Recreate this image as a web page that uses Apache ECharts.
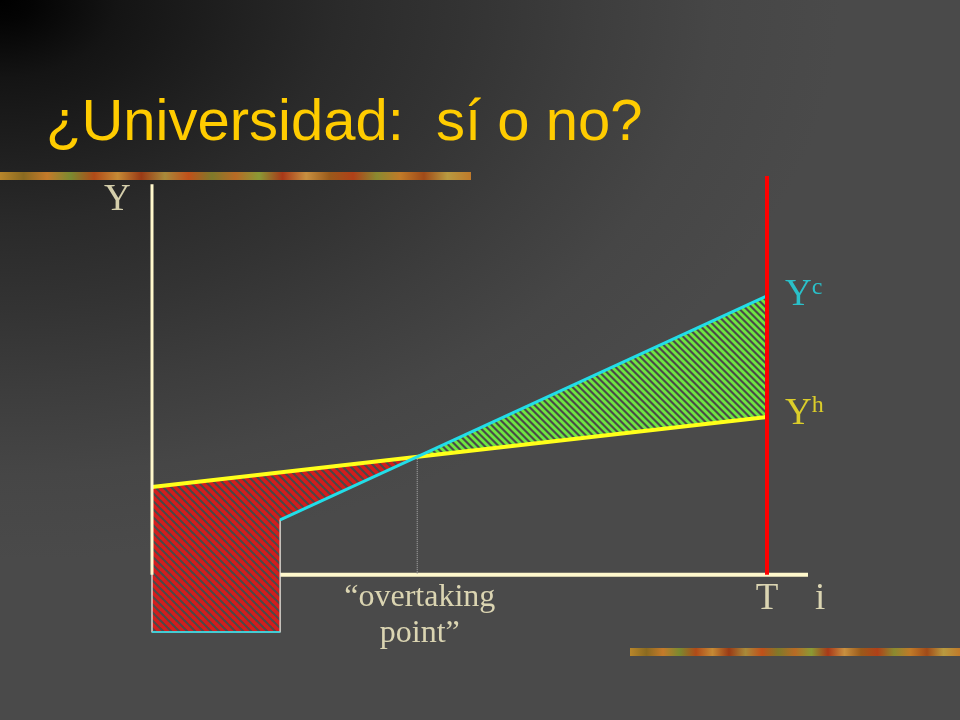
<!DOCTYPE html>
<html>
<head>
<meta charset="utf-8">
<script src="https://cdn.jsdelivr.net/npm/echarts@6/dist/echarts.min.js"></script>
<style>
  html, body { margin: 0; padding: 0; width: 960px; height: 720px; overflow: hidden; background-color: #4a4a4a; }
  body {
    background-image: radial-gradient(840px 560px at 0 0, #000000 0%, #040404 4%, #141414 14%, #202020 28%,
      #2a2a2a 40%, #333333 55%, #3d3d3d 70%, #464646 85%, #4a4a4a 100%);
  }
  #chart { width: 960px; height: 720px; }
</style>
</head>
<body>
<div id="chart"></div>
<script>
// ---- data (in chart units: x = years of life, y = income) ----
const schoolEnd = 10;          // end of university
const horizonT = 48;           // T, end of working life
const xAxisEnd = 51.2;
const yAxisTop = 140;
const redLineTop = 143;
const studyCost = -20.5;       // negative income while studying
const overtakingPoint = [20.7, 42.3];

const yhLine = [[0, 31.5], [48, 56.6]];           // Y^h : high-school earnings
const ycLine = [[10, 19.7], [48, 100]];           // Y^c : college earnings
const costBottom = [[0, -20.5], [10, -20.5]];
const costRegion = [[0, 31.5], [20.7, 42.3], [10, 19.7], [10, -20.5], [0, -20.5]];
const gainRegion = [[20.7, 42.3], [48, 100], [48, 56.6]];
const xAxisLine = [[10, 0], [51.2, 0]];           // visible part (left part hidden by the cost box)
const yAxisLine = [[0, 0], [0, 140]];
const horizonLine = [[48, 0], [48, 143]];
const overtakingDrop = [[20.7, 42.3], [20.7, 0]];

const labelNames = ['Y', 'T', 'i', 'overtaking', 'Yc', 'Yh'];
const labelPositions = [[-2.7, 134.4], [48, -8.9], [52.15, -8.9], [20.9, -14.6], [49.4, 100.2], [49.4, 57.6]];

// ---- styling helpers ----
function stripePattern(color, p, w) {
  const c = document.createElement('canvas');
  c.width = p; c.height = p;
  const ctx = c.getContext('2d');
  ctx.strokeStyle = color; ctx.lineWidth = w; ctx.lineCap = 'square';
  for (let k = -1; k <= 1; k++) {
    ctx.beginPath();
    ctx.moveTo(-2, -2 - k * p);
    ctx.lineTo(p + 2, p + 2 - k * p);
    ctx.stroke();
  }
  return { image: c, repeat: 'repeat' };
}
const redHatch = stripePattern('#d41c1c', 8, 3.6);
const greenHatch = stripePattern('#6ee640', 7, 2.8);

const serif = "'Liberation Serif', 'Times New Roman', serif";
const cream = '#fff8cc';
const cyan = '#22dde8';
const yellow = '#ffff1a';
const yhText = '#ffee22';

function polygonSeries(name, region, fill, z) {
  return {
    type: 'custom', name: name, data: [0], clip: false, z: z, silent: true,
    renderItem: function (params, api) {
      return {
        type: 'polygon',
        shape: { points: region.map(p => api.coord(p)) },
        style: { fill: fill, stroke: '#f0f0e8', lineWidth: 1.2 }
      };
    }
  };
}
function lineSeries(data, color, width, z, type) {
  return {
    type: 'line', data: data, symbol: 'none', clip: false, z: z, silent: true,
    lineStyle: { color: color, width: width, type: type || 'solid', cap: 'butt' }
  };
}

const labelStyles = {
  'Y': { formatter: 'Y', color: cream, fontSize: 37, fontFamily: serif },
  'T': { formatter: 'T', color: cream, fontSize: 37, fontFamily: serif },
  'i': { formatter: 'i', color: cream, fontSize: 37, fontFamily: serif },
  'overtaking': { formatter: '\u201Covertaking\npoint\u201D', color: cream, fontSize: 32, lineHeight: 36, fontFamily: serif },
  'Yc': { formatter: '{b|Y}{s|c}', align: 'left',
          rich: { b: { fontSize: 37, color: cyan, fontFamily: serif, lineHeight: 40 },
                  s: { fontSize: 24, color: cyan, fontFamily: serif, verticalAlign: 'top', lineHeight: 40 } } },
  'Yh': { formatter: '{b|Y}{s|h}', align: 'left',
          rich: { b: { fontSize: 37, color: yhText, fontFamily: serif, lineHeight: 40 },
                  s: { fontSize: 24, color: yhText, fontFamily: serif, verticalAlign: 'top', lineHeight: 40 } } }
};

const labelData = labelNames.map((n, i) => ({
  value: labelPositions[i],
  label: Object.assign({ show: true, position: 'inside', align: 'center', verticalAlign: 'middle' }, labelStyles[n])
}));

const barStops = ['#b8862b', '#8a6a20', '#c47a2a', '#7a8a30', '#b04a18', '#c58a35', '#9a3a15', '#a88a3a',
  '#c0501a', '#7f7a2a', '#b86a25', '#8a9a35', '#a83818', '#c89040', '#9a5a1a', '#b04018', '#8a8a30',
  '#c07a28', '#a04a18', '#b89a40', '#c07a2a'];
function barGradient() {
  return new echarts.graphic.LinearGradient(0, 0, 1, 0,
    barStops.map((c, i) => ({ offset: i / (barStops.length - 1), color: c })));
}

const chart = echarts.init(document.getElementById('chart'), null, { renderer: 'canvas' });
chart.setOption({
  animation: false,
  backgroundColor: 'transparent',
  grid: { left: 152, right: 152, top: 176, bottom: 88 },
  xAxis: { type: 'value', min: 0, max: xAxisEnd, show: false },
  yAxis: { type: 'value', min: studyCost, max: redLineTop, show: false },
  graphic: [
    { type: 'text', left: 46, top: 95, z: 100,
      style: { text: '\u00BFUniversidad:  s\u00ED o no?', fill: '#ffcc00',
               font: "58px 'Liberation Sans', Arial, sans-serif" } },
    { type: 'rect', shape: { x: 0, y: 172, width: 471, height: 8 }, style: { fill: barGradient() }, z: 100 },
    { type: 'rect', shape: { x: 630, y: 648, width: 330, height: 8 }, style: { fill: barGradient() }, z: 100 }
  ],
  series: [
    lineSeries(xAxisLine, cream, 4, 1),
    polygonSeries('cost', costRegion, redHatch, 2),
    polygonSeries('gain', gainRegion, greenHatch, 2),
    lineSeries(overtakingDrop, '#b0b0b0', 1, 3, 'dotted'),
    lineSeries(costBottom, cyan, 1.5, 3),
    lineSeries(yhLine, yellow, 4, 4),
    lineSeries(ycLine, cyan, 3, 5),
    lineSeries(horizonLine, '#ff0000', 4, 6),
    lineSeries(yAxisLine, cream, 3, 7),
    {
      type: 'scatter', data: labelData, symbolSize: 1, clip: false, z: 10, silent: true,
      itemStyle: { color: 'rgba(0,0,0,0)' }
    }
  ]
});
</script>
</body>
</html>
